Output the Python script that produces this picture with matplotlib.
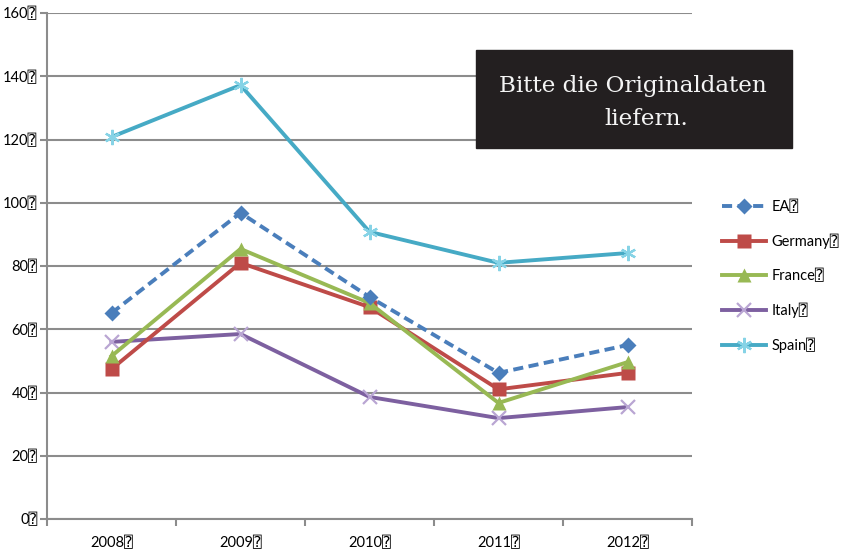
import numpy as np
import matplotlib
matplotlib.use("Agg")
import matplotlib.pyplot as plt
from matplotlib.patches import Rectangle

# Daten
years = ["2008", "2009", "2010", "2011", "2012"]
ea = [65.1, 96.8, 70.2, 46.2, 55.0]
germany = [47.4, 81.0, 67.0, 41.0, 46.2]
france = [51.5, 85.4, 68.3, 36.7, 49.6]
italy = [56.0, 58.5, 38.6, 31.9, 35.4]
spain = [120.8, 137.2, 90.8, 81.0, 84.1]
y_ticks = [0, 20, 40, 60, 80, 100, 120, 140, 160]
mark = "\u2370"

plt.rcParams['font.family'] = ['Lato', 'DejaVu Sans', 'DejaVu Sans Mono']

fig = plt.figure(figsize=(8.46, 5.51), dpi=100)
ax = fig.add_axes([47/846, 1-519/551, (692-47)/846, (519-13)/551])

x = np.arange(len(years))
grid_c = "#8c8c8c"

ax.plot(x, spain, color="#46AAC5", lw=2.8, marker=(6, 2, 0), ms=11, mew=1.6,
        mec="#86d3e6", label="Spain" + mark, zorder=3)
ax.plot(x, italy, color="#7D60A0", lw=2.8, marker="x", ms=10, mew=1.6,
        mec="#b9a5d3", label="Italy" + mark, zorder=3)
ax.plot(x, france, color="#98B954", lw=2.8, marker="^", ms=10.5, mec="none",
        label="France" + mark, zorder=4)
ax.plot(x, germany, color="#BE4B48", lw=2.8, marker="s", ms=9.5, mec="none",
        label="Germany" + mark, zorder=3)
ax.plot(x, ea, color="#4A7EBB", lw=2.8, ls=(0, (2.6, 1.4)), marker="D", ms=8,
        mec="none", label="EA" + mark, zorder=5)

ax.set_xlim(-0.5, 4.5)
ax.set_ylim(0, 160)
ax.set_yticks(y_ticks)
ax.set_yticklabels([f"{v}{mark}" for v in y_ticks], fontsize=10.5)
ax.set_xticks(x)
ax.set_xticklabels([y + mark for y in years], fontsize=10.5)
ax.set_xticks(np.arange(-0.5, 5, 1), minor=True)
ax.tick_params(axis="x", which="major", length=0, pad=12)
ax.tick_params(axis="x", which="minor", length=5, color=grid_c, width=1.5, direction="out")
ax.tick_params(axis="y", length=5, color=grid_c, width=1.5, pad=2)
ax.grid(axis="y", color=grid_c, lw=1.5)
ax.set_axisbelow(True)
for s in ["top", "right"]:
    ax.spines[s].set_visible(False)
for s in ["left", "bottom"]:
    ax.spines[s].set_color(grid_c)
    ax.spines[s].set_linewidth(1.5)

handles, labels = ax.get_legend_handles_labels()
leg = fig.legend(handles[::-1], labels[::-1], loc="upper left",
                 bbox_to_anchor=(722/846, 1-200/551), frameon=False, fontsize=10.5,
                 handlelength=3.0, handletextpad=0.4, labelspacing=1.35, borderpad=0,
                 borderaxespad=0)

fig.patches.append(Rectangle((476/846, 1-148/551), (792-476)/846, 98/551,
                             transform=fig.transFigure, color="#231F20", zorder=10))
fig.text(633/846, 1-92/551, "Bitte die Originaldaten", color="#f4f4f4",
         family="DejaVu Serif", fontsize=16.6, ha="center", va="baseline", zorder=11)
fig.text(646/846, 1-125/551, "liefern.", color="#f4f4f4",
         family="DejaVu Serif", fontsize=16.6, ha="center", va="baseline", zorder=11)

fig.savefig("out.png", dpi=100)
